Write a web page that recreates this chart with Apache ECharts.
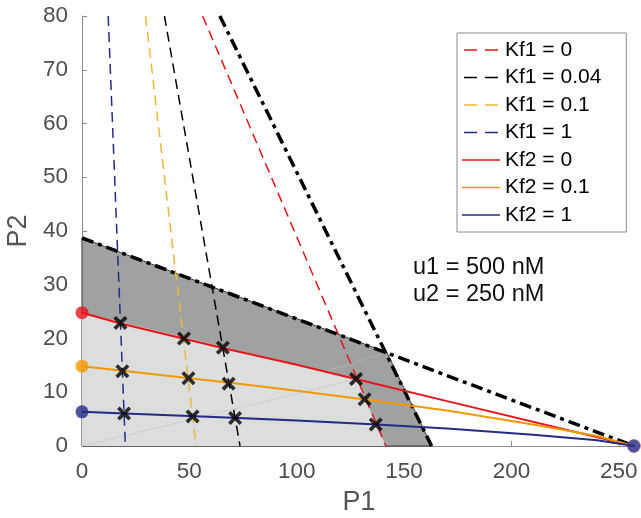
<!DOCTYPE html>
<html><head><meta charset="utf-8">
<script src="https://cdn.jsdelivr.net/npm/echarts@6/dist/echarts.min.js"></script>
<style>html,body{margin:0;padding:0;background:#fff}#c{width:641px;height:518px}</style>
</head><body><div id="c"></div>
<script>
// ---- data ----
const xTicks = [0, 50, 100, 150, 200, 250];
const yTicks = [0, 10, 20, 30, 40, 50, 60, 70, 80];
const legendNames = ['Kf1 = 0', 'Kf1 = 0.04', 'Kf1 = 0.1', 'Kf1 = 1', 'Kf2 = 0', 'Kf2 = 0.1', 'Kf2 = 1'];
const annotation = ['u1 = 500 nM', 'u2 = 250 nM'];

const darkRegion  = [[0, 0], [0, 38.7], [142, 17.4], [162.8, 0]];
const lightRegion = [[0, 0], [0, 24.8], [127.8, 12.45], [141.5, 0]];
const seamDark  = [[0, 0], [142, 17.4]];
const seamLight = [[0, 0], [127.8, 12.45]];

const boundA = [[0, 38.7], [257, 0]];
const boundB = [[64.2, 80], [162.8, 0]];

const kf1_0   = [[56.2, 80], [141.5, 0]];
const kf1_004 = [[38.4, 80], [73.6, 0]];
const kf1_01  = [[29.6, 80], [53.1, 0]];
const kf1_1   = [[12.2, 80], [20.2, 0]];

const kf2_0  = [[0, 24.8], [18, 22.8], [48, 19.9], [66, 18.2], [100, 15.1], [127, 12.5], [170, 8.35], [257, 0]];
const kf2_01 = [[0, 14.85], [20, 13.95], [50, 12.6], [70, 11.7], [100, 10.3], [130, 8.75], [170, 6.6], [210, 4.0], [240, 1.85], [257, 0]];
const kf2_1  = [[0, 6.35], [20, 6.05], [50, 5.6], [70, 5.25], [100, 4.75], [135, 4.05], [170, 3.25], [210, 2.1], [240, 1.05], [257, 0]];

const crosses = [
  [17.9, 22.9], [47.5, 20.0], [65.6, 18.3], [127.6, 12.45],
  [18.8, 13.9], [49.6, 12.6], [68.3, 11.6], [131.6, 8.7],
  [19.6, 6.05], [51.5, 5.5], [71.3, 5.2], [136.8, 4.0]
];
const startDots = [[0, 24.8], [0, 14.85], [0, 6.35]];
const endDot = [[257, 0]];

// ---- styles ----
const FONT = 'Liberation Sans, Arial, Helvetica, sans-serif';
const RED = '#e5141b', ORANGE = '#f39800', NAVY = '#232b86', YEL = '#f1b634', BLACK = '#000000';
const DASH = [10, 6];
const DASHDOT = [12, 5, 4, 5];
const ICON_DASH = 'path://M0,0H13V1.6H0Z M21,0H34V1.6H21Z';
const ICON_SOLID = 'path://M0,0H38V1.6H0Z';
const CROSS = 'path://M0,2.2 L2.2,0 L6,3.8 L9.8,0 L12,2.2 L8.2,6 L12,9.8 L9.8,12 L6,8.2 L2.2,12 L0,9.8 L3.8,6 Z';

function poly(points, fill, stroke, z) {
  return {
    type: 'custom', coordinateSystem: 'cartesian2d', silent: true, z: z,
    data: [points[0]],
    renderItem: function (params, api) {
      return {
        type: 'polygon',
        shape: { points: points.map(function (p) { return api.coord(p); }) },
        style: { fill: fill, stroke: stroke || null, lineWidth: stroke ? 1 : 0 }
      };
    }
  };
}
function line(name, data, color, type, width, z) {
  return {
    type: 'line', name: name, data: data, symbol: 'none', z: z, silent: true,
    lineStyle: { color: color, type: type, width: width }, itemStyle: { color: color }
  };
}

const chart = echarts.init(document.getElementById('c'), null, { renderer: 'canvas' });
chart.setOption({
  animation: false,
  backgroundColor: '#ffffff',
  grid: { left: 82, right: 5, top: 16, bottom: 72, containLabel: false, outerBoundsMode: 'none' },
  xAxis: {
    type: 'value', min: 0, max: 258, interval: 50,
    name: 'P1', nameLocation: 'middle', nameGap: 43,
    nameTextStyle: { fontSize: 27, color: '#555555', fontFamily: FONT },
    axisLine: { show: true, onZero: false, lineStyle: { color: '#8c8c8c', width: 1 } },
    axisTick: { show: true, inside: true, length: 5, customValues: xTicks, lineStyle: { color: '#8c8c8c' } },
    axisLabel: { customValues: xTicks, fontSize: 22.5, color: '#4d4d4d', margin: 14, fontFamily: FONT },
    splitLine: { show: false }
  },
  yAxis: {
    type: 'value', min: 0, max: 80, interval: 10,
    name: 'P2', nameLocation: 'middle', nameGap: 45, nameRotate: 90,
    nameTextStyle: { fontSize: 27, color: '#555555', fontFamily: FONT },
    axisLine: { show: true, onZero: false, lineStyle: { color: '#8c8c8c', width: 1 } },
    axisTick: { show: true, inside: true, length: 5, customValues: yTicks, lineStyle: { color: '#8c8c8c' } },
    axisLabel: { customValues: yTicks, fontSize: 22.5, color: '#4d4d4d', margin: 14, fontFamily: FONT },
    splitLine: { show: false }
  },
  legend: {
    orient: 'vertical', left: 457, top: 33,
    padding: [6, 25, 6, 5], itemGap: 5.5, itemWidth: 38, itemHeight: 1.6,
    borderColor: '#8a8a8a', borderWidth: 1, borderRadius: 0, backgroundColor: '#ffffff',
    textStyle: { fontSize: 21, color: '#000', fontFamily: FONT, lineHeight: 22 },
    selectedMode: false,
    data: legendNames.map(function (n, i) {
      return { name: n, icon: i < 4 ? ICON_DASH : ICON_SOLID };
    })
  },
  graphic: [
    { type: 'text', left: 413, top: 256, style: { text: annotation[0], fontSize: 23.5, fill: '#111', fontFamily: FONT } },
    { type: 'text', left: 413, top: 283, style: { text: annotation[1], fontSize: 23.5, fill: '#111', fontFamily: FONT } }
  ],
  series: [
    poly(darkRegion, '#a0a1a1', '#3a3a3a', 1),
    poly(lightRegion, '#dcdddd', null, 2),
    line('seamDark', seamDark, '#b4b5b5', 'solid', 0.8, 1.5),
    line('seamLight', seamLight, '#c8c9c9', 'solid', 0.8, 2.5),
    line('Kf1 = 0', kf1_0, RED, DASH, 1.5, 4),
    line('Kf1 = 0.04', kf1_004, BLACK, DASH, 1.5, 4),
    line('Kf1 = 0.1', kf1_01, YEL, DASH, 1.5, 4),
    line('Kf1 = 1', kf1_1, NAVY, DASH, 1.5, 4),
    line('boundA', boundA, BLACK, DASHDOT, 3.5, 5),
    line('boundB', boundB, BLACK, DASHDOT, 3.5, 5),
    line('Kf2 = 0', kf2_0, RED, 'solid', 2, 6),
    line('Kf2 = 0.1', kf2_01, ORANGE, 'solid', 2, 6),
    line('Kf2 = 1', kf2_1, NAVY, 'solid', 2, 6),
    {
      type: 'scatter', data: crosses, z: 7, silent: true,
      symbol: CROSS, symbolSize: 14, itemStyle: { color: '#000' }
    },
    {
      type: 'scatter', data: startDots, z: 8, silent: true, symbol: 'circle', symbolSize: 13,
      itemStyle: { color: function (p) { return [RED, ORANGE, NAVY][p.dataIndex]; } }
    },
    {
      type: 'scatter', data: endDot, z: 8, silent: true, symbol: 'circle', symbolSize: 13,
      itemStyle: { color: NAVY, borderColor: '#b0303a', borderWidth: 0.6 }
    }
  ]
});
</script></body></html>
